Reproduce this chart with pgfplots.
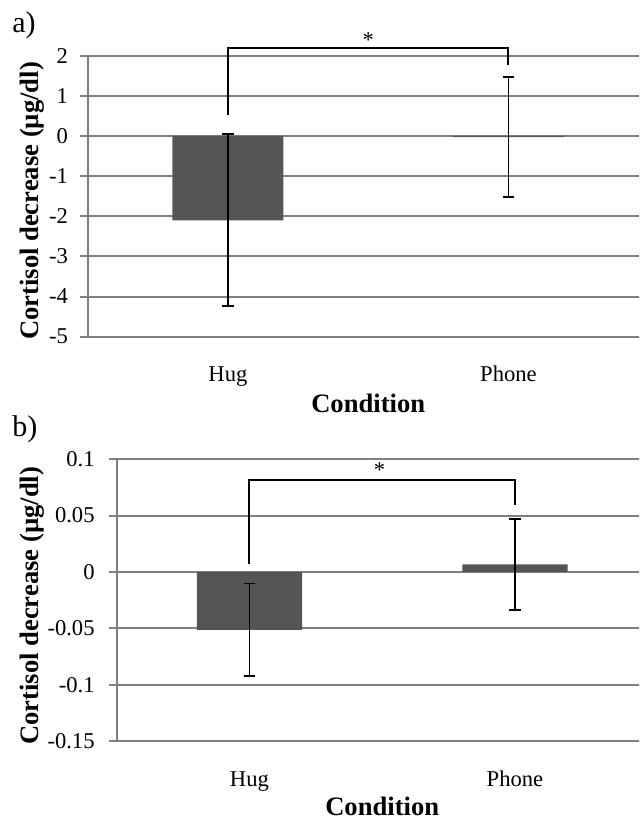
\documentclass[border=0pt]{standalone}
\usepackage{fontspec}
\setmainfont{Liberation Serif}
\usepackage{pgfplots}
\pgfplotsset{compat=1.18}

\definecolor{gridgray}{RGB}{128,128,128}
\definecolor{barfill}{RGB}{85,85,85}

% shared look of both panels (Excel-like)
\pgfplotsset{cortisol/.style={
    scale only axis,
    anchor=south west,
    xmin=-0.5, xmax=1.5,
    xtick={0,1}, xticklabels={Hug,Phone},
    axis x line*=bottom, axis y line*=left,
    x axis line style={draw=none},
    y axis line style={draw=gridgray, line width=1pt},
    major x tick style={draw=none},
    ytick style={draw=gridgray, line width=1pt},
    tick align=outside, major tick length=3.85pt,
    ymajorgrids, grid style={draw=gridgray, line width=1pt},
    /pgf/number format/assume math mode=true,
    scaled y ticks=false,
    tick label style={font=\fontsize{11.3}{13}\selectfont},
    xticklabel style={anchor=base, yshift=-18.65pt},
    label style={font=\fontsize{13.3}{16}\selectfont\bfseries},
    xlabel={Condition},
    ylabel={Cortisol decrease (µg/dl)},
    xlabel style={anchor=base},
    ylabel style={anchor=base},
    clip=false,
  },
  cbar/.style={ybar, bar width=0.396, fill=barfill, draw=none,
    error bars/.cd, y dir=both, y explicit,
    error bar style={black, line width=0.95pt},
    error mark options={rotate=90, mark size=2.9pt, black, line width=0.95pt}},
  bracket/.style={black, line width=1pt, mark=none},
}

\begin{document}
\begin{tikzpicture}
\useasboundingbox (0,0) rectangle (319.5pt,409.5pt);
\clip (0,0) rectangle (319.5pt,409.5pt);

% panel labels
\node[anchor=base west, inner sep=0pt, font=\fontsize{15}{17}\selectfont] at (6pt,393.2pt) {a)};
\node[anchor=base west, inner sep=0pt, font=\fontsize{15}{17}\selectfont] at (6pt,191.2pt) {b)};

% a) cortisol (ug/dl)
\begin{axis}[cortisol,
    at={(43.85pt,241.15pt)}, width=280.5pt, height=140.5pt,
    ymin=-5, ymax=2, ytick={-5,-4,-3,-2,-1,0,1,2},
    yticklabel style={anchor=east, inner sep=0pt, xshift=-5.85pt},
    xlabel style={at={(axis description cs:0.5,-0.268)}},
    ylabel style={at={(axis description cs:-0.0881,0.483)}},
  ]
  \addplot[cbar] coordinates {
    (0,-2.10) +- (0,2.145)
    (1,-0.03) +- (0,1.49)
  };
  \addplot[bracket] coordinates {(0,0.53) (0,2.19) (1,2.19) (1,1.76)};
  \node[anchor=base, inner sep=0pt, font=\fontsize{11.3}{13}\selectfont]
    at (axis cs:0.5,2.21) {*};
\end{axis}

% b) second measure
\begin{axis}[cortisol,
    at={(58.35pt,39pt)}, width=265.5pt, height=140.85pt,
    ymin=-0.15, ymax=0.1,
    ytick={-0.15,-0.1,-0.05,0,0.05,0.1},
    yticklabels={-0.15,-0.1,-0.05,0,0.05,0.1},
    yticklabel style={anchor=east, inner sep=0pt, xshift=-7pt},
    xlabel style={at={(axis description cs:0.5,-0.2627)}},
    ylabel style={at={(axis description cs:-0.1476,0.48)}},
  ]
  \addplot[cbar] coordinates {
    (0,-0.0514) +- (0,0.0412)
    (1,0.0068) +- (0,0.0402)
  };
  \addplot[bracket] coordinates {(0,0.0074) (0,0.082) (1,0.082) (1,0.0598)};
  \node[anchor=base, inner sep=0pt, font=\fontsize{11.3}{13}\selectfont]
    at (axis cs:0.49,0.0835) {*};
\end{axis}
\end{tikzpicture}
\end{document}
